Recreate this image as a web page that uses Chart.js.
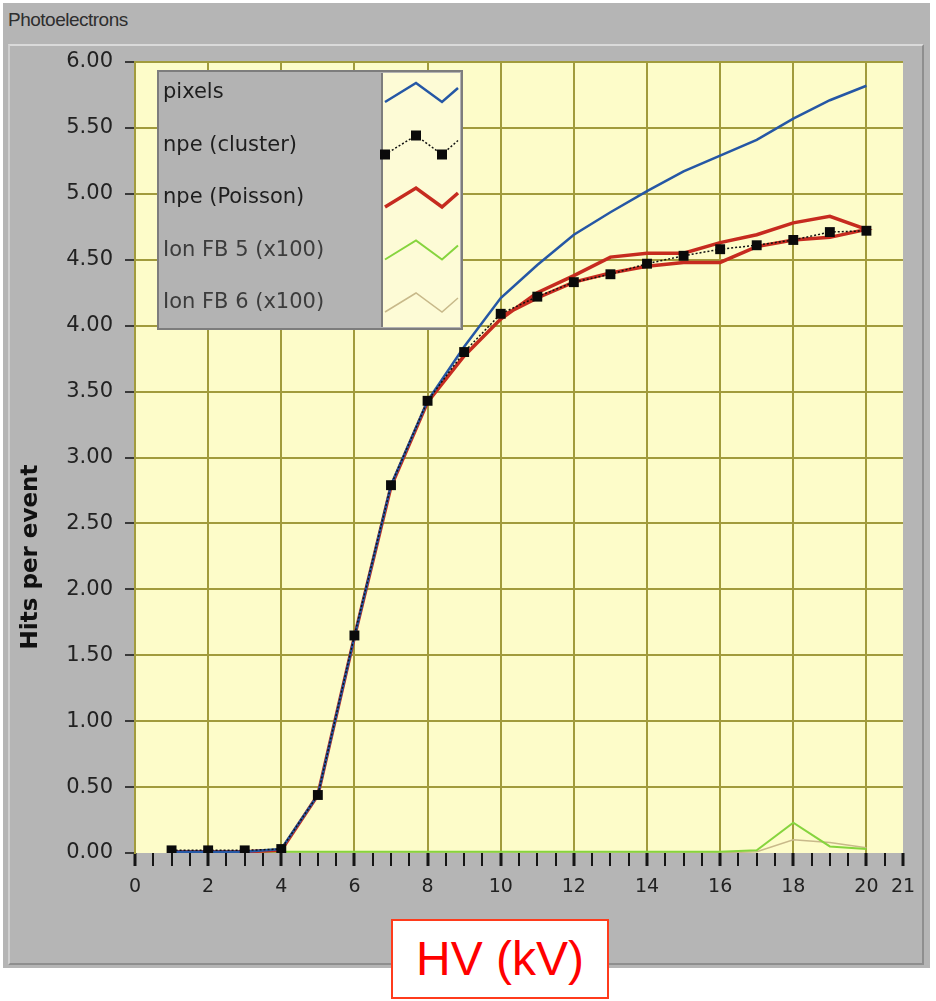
<!DOCTYPE html>
<html>
<head>
<meta charset="utf-8">
<title>Photoelectrons</title>
<script src="https://cdn.jsdelivr.net/npm/chart.js@4.4.1/dist/chart.umd.min.js"></script>
<style>
  html, body { margin: 0; padding: 0; background: #fff; }
  body { width: 936px; height: 1001px; position: relative; overflow: hidden; font-family: "Liberation Sans", Arial, sans-serif; }
  #panel { position: absolute; left: 3px; top: 3px; width: 927px; height: 965px; background: #b5b5b5; }
  #inner { position: absolute; left: 8px; top: 44px; width: 912px; height: 917px;
           border-top: 2px solid #dadada; border-left: 2px solid #cfcfcf;
           border-right: 2px solid #8e8e8e; border-bottom: 2px solid #8e8e8e; }
  #title { position: absolute; left: 8px; top: 9px; font-size: 19px; color: #2e2e2e; letter-spacing: -0.5px; }
  #wrap { position: absolute; left: 0; top: 0; width: 936px; height: 1001px; }
  #hv { position: absolute; left: 391px; top: 919px; width: 214px; height: 76px;
        border: 2px solid #ff3b1c; background: #fff; color: #ff0000;
        font-size: 48px; text-align: center; line-height: 76px; }
</style>
</head>
<body>
<div id="panel"></div>
<div id="inner"></div>
<div id="title">Photoelectrons</div>
<div id="wrap"><canvas id="chart"></canvas></div>
<div id="hv">HV (kV)</div>
<script>
// HV setting (kV) for each measurement
var hv = [1, 2, 3, 4, 5, 6, 7, 8, 9, 10, 11, 12, 13, 14, 15, 16, 17, 18, 19, 20];
var pixels = [0.01, 0.01, 0.01, 0.03, 0.44, 1.64, 2.79, 3.43, 3.84, 4.21, 4.46, 4.69, 4.86, 5.02, 5.17, 5.29, 5.41, 5.57, 5.71, 5.82];
var npeCluster = [0.02, 0.02, 0.02, 0.03, 0.44, 1.65, 2.79, 3.43, 3.80, 4.09, 4.22, 4.33, 4.39, 4.47, 4.53, 4.58, 4.61, 4.65, 4.71, 4.72];
// Poisson npe: ramp up, then the way back down (second trace)
var npePoissonUp = [0.01, 0.01, 0.01, 0.02, 0.44, 1.64, 2.78, 3.42, 3.77, 4.05, 4.25, 4.38, 4.52, 4.55, 4.55, 4.63, 4.69, 4.78, 4.83, 4.73];
var hvDown = [19, 18, 17, 16, 15, 14, 13, 12, 11, 10];
var npePoissonDown = [4.67, 4.65, 4.60, 4.48, 4.48, 4.45, 4.40, 4.33, 4.21, 4.07];
var ionFb5 = [0.01, 0.01, 0.01, 0.01, 0.01, 0.01, 0.01, 0.01, 0.01, 0.01, 0.01, 0.01, 0.01, 0.01, 0.01, 0.01, 0.02, 0.23, 0.05, 0.03];
var ionFb6 = [0.00, 0.00, 0.00, 0.00, 0.00, 0.00, 0.00, 0.00, 0.00, 0.00, 0.00, 0.00, 0.00, 0.00, 0.00, 0.00, 0.01, 0.10, 0.08, 0.04];

var seriesLabels = ['pixels', 'npe (cluster)', 'npe (Poisson)', 'Ion FB 5 (x100)', 'Ion FB 6 (x100)'];
var xTickLabels = [0, 2, 4, 6, 8, 10, 12, 14, 16, 18, 20, 21];
var yAxisTitle = 'Hits per event';

var olive = '#a19b3c';

function pts(xs, ys) {
    return xs.map(function (x, i) { return {x: x, y: ys[i]}; });
}

// minor tick marks every half kV
var xTickPos = [];
for (var v = 0; v <= 21; v += 0.5) xTickPos.push(v);

var plotBg = {
    id: 'plotBg',
    beforeDraw: function (chart) {
        var a = chart.chartArea, ctx = chart.ctx;
        ctx.save();
        ctx.fillStyle = '#fdfcc9';
        ctx.fillRect(a.left, a.top, a.right - a.left, a.bottom - a.top);
        ctx.restore();
    }
};

var yTitle = {
    id: 'yTitle',
    afterDraw: function (chart) {
        var ctx = chart.ctx;
        ctx.save();
        ctx.translate(31, chart.chartArea.bottom - 296);
        ctx.rotate(-Math.PI / 2);
        ctx.font = 'bold 23px "DejaVu Sans"';
        ctx.textAlign = 'center';
        ctx.textBaseline = 'middle';
        ctx.fillStyle = '#111';
        ctx.fillText(yAxisTitle, 0, 0);
        ctx.restore();
    }
};

// LabVIEW style legend box inside the plot
var boxLegend = {
    id: 'boxLegend',
    afterDraw: function (chart) {
        var ctx = chart.ctx, a = chart.chartArea;
        var x0 = a.left + 22, y0 = a.top + 8, w = 306, h = 260;
        var sx = x0 + 225;
        ctx.save();
        ctx.fillStyle = '#b3b3b3';
        ctx.fillRect(x0, y0, w, h);
        ctx.fillStyle = '#fdfbd6';
        ctx.fillRect(sx, y0 + 3, w - 228, h - 6);
        ctx.strokeStyle = '#7d7d7d';
        ctx.lineWidth = 2;
        ctx.strokeRect(x0 + 1, y0 + 1, w - 2, h - 2);
        ctx.beginPath();
        ctx.moveTo(sx, y0 + 3);
        ctx.lineTo(sx, y0 + h - 3);
        ctx.stroke();
        ctx.font = '21px "DejaVu Sans"';
        ctx.textBaseline = 'middle';
        chart.data.datasets.forEach(function (ds, i) {
            var cy = y0 + 23 + i * 52.5;
            ctx.fillStyle = i < 3 ? '#1e1e1e' : '#3c3c3c';
            ctx.fillText(ds.label, x0 + 6, cy);
            var zz = [[sx + 3, cy + 9], [sx + 34, cy - 10], [sx + 60, cy + 9], [sx + 76, cy - 5]];
            ctx.strokeStyle = ds.borderColor;
            ctx.lineWidth = ds.borderWidth;
            ctx.setLineDash(ds.borderDash || []);
            ctx.beginPath();
            zz.forEach(function (p, k) { if (k === 0) ctx.moveTo(p[0], p[1]); else ctx.lineTo(p[0], p[1]); });
            ctx.stroke();
            ctx.setLineDash([]);
            if (ds.pointRadius) {
                ctx.fillStyle = ds.pointBackgroundColor;
                for (var k = 0; k < 3; k++) {
                    ctx.fillRect(zz[k][0] - 5, zz[k][1] - 5, 10, 10);
                }
            }
        });
        ctx.restore();
    }
};

var ctx = document.getElementById('chart').getContext('2d');
var myChart = new Chart(ctx, {
    type: 'scatter',
    data: {
        datasets: [{
            label: seriesLabels[0],
            data: pts(hv, pixels),
            showLine: true,
            borderColor: '#2557a5',
            borderWidth: 2.5,
            pointRadius: 0,
            tension: 0,
            order: 1
        }, {
            label: seriesLabels[1],
            data: pts(hv, npeCluster),
            showLine: true,
            borderColor: '#111',
            borderWidth: 1.5,
            borderDash: [2, 2],
            pointStyle: 'rect',
            pointRadius: 7,
            pointBackgroundColor: '#0a0a0a',
            pointBorderWidth: 0,
            order: 0
        }, {
            label: seriesLabels[2],
            data: pts(hv, npePoissonUp).concat(pts(hvDown, npePoissonDown)),
            showLine: true,
            borderColor: '#c62b1f',
            borderWidth: 3.5,
            pointRadius: 0,
            order: 2
        }, {
            label: seriesLabels[3],
            data: pts(hv, ionFb5),
            showLine: true,
            borderColor: '#86d43e',
            borderWidth: 2,
            pointRadius: 0,
            order: 3
        }, {
            label: seriesLabels[4],
            data: pts(hv, ionFb6),
            showLine: true,
            borderColor: '#c8b98a',
            borderWidth: 1.5,
            pointRadius: 0,
            order: 4
        }]
    },
    options: {
        responsive: true,
        maintainAspectRatio: false,
        animation: false,
        events: [],
        layout: {
            padding: {left: 0, top: 62, right: 33, bottom: 98}
        },
        plugins: {
            legend: {display: false},
            tooltip: {enabled: false}
        },
        scales: {
            x: {
                type: 'linear',
                min: 0,
                max: 21,
                afterBuildTicks: function (scale) {
                    scale.ticks = xTickPos.map(function (p) { return {value: p}; });
                },
                afterFit: function (scale) { scale.height = 50; },
                border: {display: false},
                grid: {
                    color: function (c) {
                        return (c.tick && c.tick.value % 2 === 0 && c.tick.value > 0) ? olive : 'rgba(0,0,0,0)';
                    },
                    lineWidth: 2,
                    tickColor: '#151515',
                    tickWidth: function (c) {
                        return c.tick && xTickLabels.indexOf(c.tick.value) >= 0 ? 3 : 2;
                    },
                    tickLength: 13
                },
                ticks: {
                    autoSkip: false,
                    maxRotation: 0,
                    padding: 10,
                    color: '#222',
                    font: {family: 'DejaVu Sans', size: 19},
                    callback: function (val) {
                        return xTickLabels.indexOf(val) >= 0 ? String(val) : '';
                    }
                }
            },
            y: {
                min: 0,
                max: 6,
                afterFit: function (scale) { scale.width = 135; },
                border: {color: olive, width: 2},
                grid: {
                    color: function (c) {
                        return (c.tick && c.tick.value > 0) ? olive : 'rgba(0,0,0,0)';
                    },
                    lineWidth: 2,
                    tickColor: '#3a3a3a',
                    tickLength: 10,
                    tickWidth: 2
                },
                ticks: {
                    stepSize: 0.5,
                    padding: 12,
                    color: '#222',
                    font: {family: 'DejaVu Sans', size: 21},
                    callback: function (val) { return val.toFixed(2); }
                }
            }
        }
    },
    plugins: [plotBg, yTitle, boxLegend]
});
</script>
</body>
</html>
